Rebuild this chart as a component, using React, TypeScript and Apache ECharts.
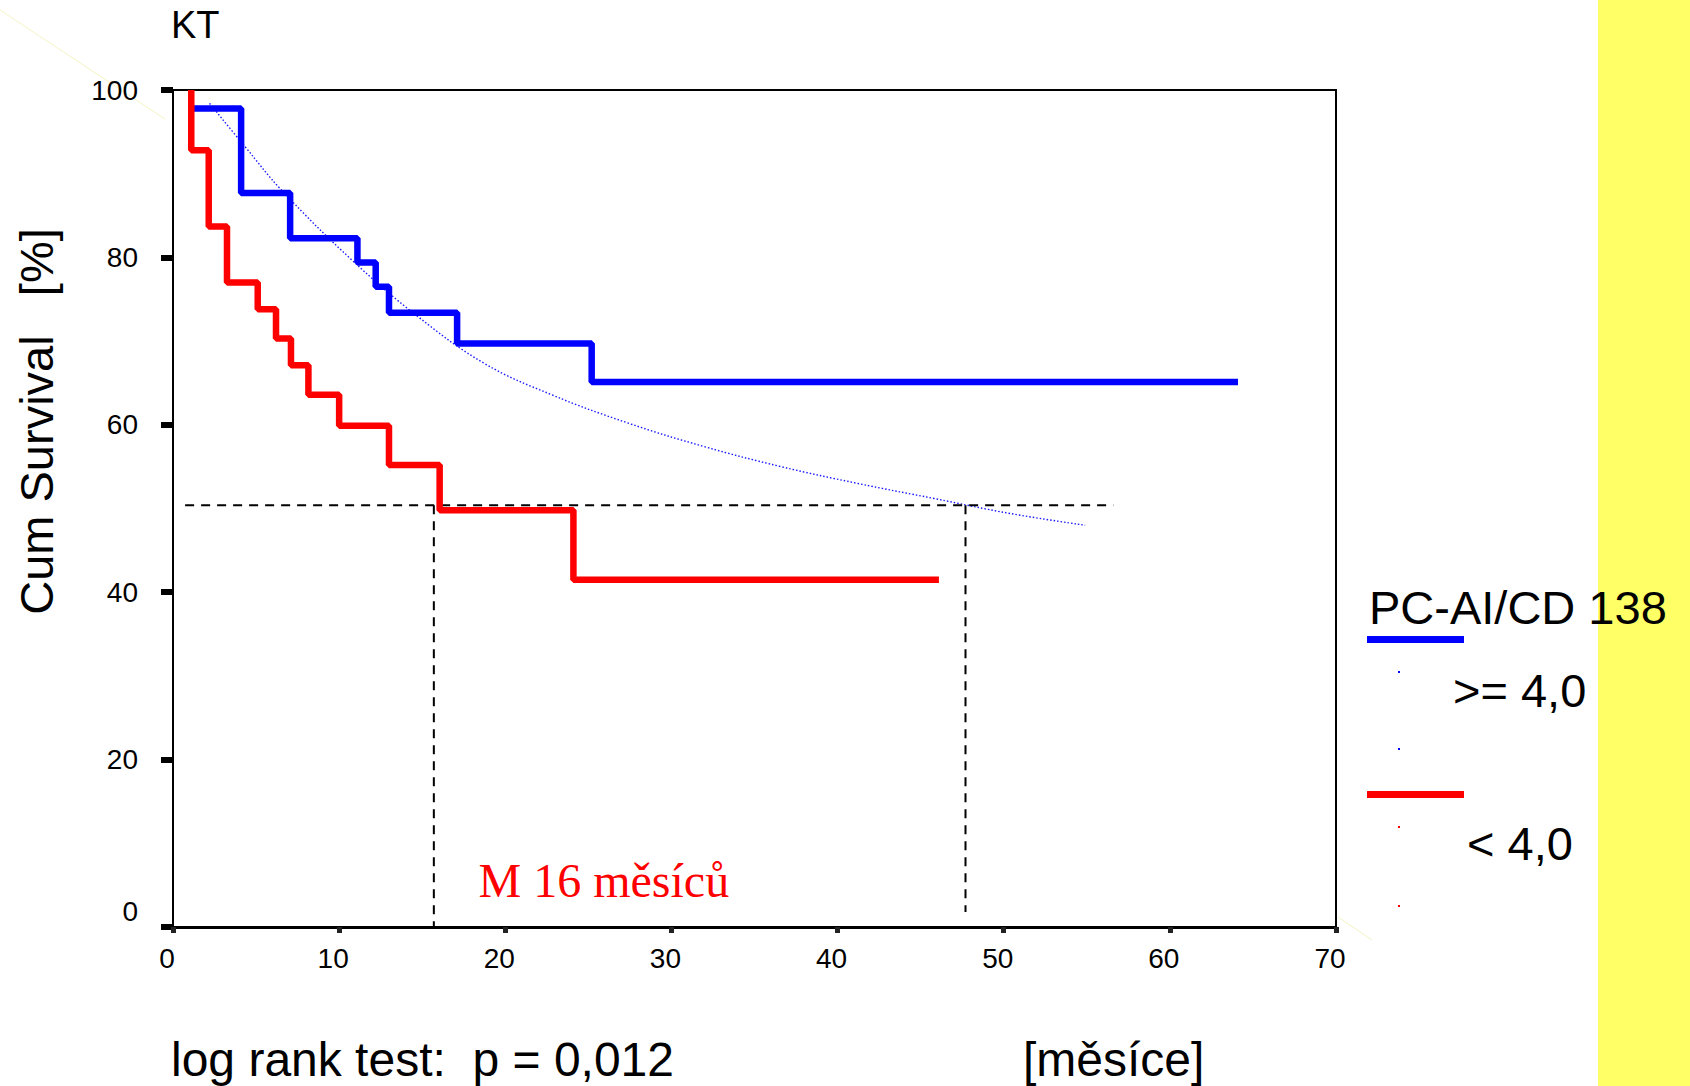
import React, { useEffect, useRef } from 'react';
import * as echarts from 'echarts';

// Kaplan-Meier step points (time in months, cumulative survival in %)
const blueTimes = [1.1, 4.1, 7.05, 11.1, 12.2, 13.0, 17.1, 25.2, 64.1];
const blueSurv = [97.8, 87.7, 82.3, 79.4, 76.5, 73.4, 69.7, 65.1, 65.1];
const redTimes = [1.1, 1.1, 2.15, 3.25, 5.1, 6.2, 7.1, 8.15, 10.0, 13.0, 16.05, 24.1, 46.1];
const redSurv = [100, 92.8, 83.7, 77.0, 73.8, 70.3, 67.1, 63.6, 59.9, 55.2, 49.8, 41.5, 41.5];
// thin dotted fitted curve
const fitTimes = [2.2, 4.35, 6.55, 10.76, 14.76, 18.77, 22.78, 27.4, 31.97, 36.6, 41.2, 45.8, 50.4, 54.9];
const fitSurv = [98.4, 93.2, 88.0, 79.7, 72.9, 67.3, 63.6, 60.2, 57.4, 55.0, 53.0, 51.2, 49.4, 48.0];
// median guide lines
const medianY = 50.4;
const medianLineX = [0.73, 56.6];
const medianRedX = 15.7;
const medianBlueX = 47.7;
const medianBlueBottom = 1.8;

const xMin = 0, xMax = 70, xStep = 10;
const yMin = 0, yMax = 100, yStep = 20;

const SANS = '"Liberation Sans", Arial, sans-serif';
const SERIF = '"Liberation Serif", "Times New Roman", serif';

const zip = (a: number[], b: number[]) => a.map((v, i) => [v, b[i]]);

export default function App() {
  const ref = useRef<HTMLDivElement>(null);
  useEffect(() => {
    if (!ref.current) return;
    const chart = echarts.init(ref.current, null, { renderer: 'svg' });
    const dashStyle = { color: '#000', width: 2, type: [9, 7] as any };
    const option: any = {
      animation: false,
      backgroundColor: '#fff',
      grid: {
        left: 173, top: 90, width: 1163, height: 837,
        show: true, borderColor: '#000', borderWidth: 2, backgroundColor: 'transparent',
      },
      xAxis: {
        type: 'value', min: xMin, max: xMax, interval: xStep,
        axisLine: { show: true, onZero: false, lineStyle: { color: '#000', width: 3 } },
        axisTick: { show: true, length: 6, lineStyle: { color: '#222', width: 5 } },
        axisLabel: { color: '#000', fontSize: 28, fontFamily: SANS, margin: 17, padding: [0, 12, 0, 0] },
        splitLine: { show: false },
      },
      yAxis: {
        type: 'value', min: yMin, max: yMax, interval: yStep,
        axisLine: { show: true, onZero: false, lineStyle: { color: '#000', width: 2 } },
        axisTick: { show: true, length: 12, lineStyle: { color: '#000', width: 6 } },
        axisLabel: {
          color: '#000', fontSize: 28, fontFamily: SANS, margin: 35,
          formatter: (v: number) => (v === 0 ? '{z|0}' : '{n|' + v + '}'),
          rich: {
            z: { fontSize: 28, fontFamily: SANS, color: '#000', padding: [0, 0, 32, 0] },
            n: { fontSize: 28, fontFamily: SANS, color: '#000' },
          },
        },
        splitLine: { show: false },
      },
      series: [
        {
          type: 'line', data: zip(fitTimes, fitSurv), smooth: 0.4, symbol: 'none',
          lineStyle: { color: '#1a1aff', width: 1.4, type: [1.5, 2] }, z: 2,
        },
        {
          type: 'line', data: medianLineX.map((x) => [x, medianY]), symbol: 'none',
          lineStyle: dashStyle, z: 2,
        },
        {
          type: 'line', data: [[medianRedX, medianY], [medianRedX, yMin]], symbol: 'none',
          lineStyle: dashStyle, z: 2,
        },
        {
          type: 'line', data: [[medianBlueX, medianY], [medianBlueX, medianBlueBottom]], symbol: 'none',
          lineStyle: dashStyle, z: 2,
        },
        {
          type: 'line', step: 'end', data: zip(blueTimes, blueSurv), symbol: 'none',
          lineStyle: { color: '#0000ff', width: 6.5 }, z: 3,
        },
        {
          type: 'line', step: 'end', data: zip(redTimes, redSurv), symbol: 'none',
          lineStyle: { color: '#ff0000', width: 6.5 }, z: 4,
        },
      ],
      graphic: [
        { type: 'rect', shape: { x: 1598, y: 0, width: 92, height: 1086 }, style: { fill: '#ffff66' }, z: 0 },
        { type: 'line', shape: { x1: 0, y1: 10, x2: 165, y2: 119 }, style: { stroke: '#f4f4c4', lineWidth: 1 }, z: 0 },
        { type: 'line', shape: { x1: 1338, y1: 917, x2: 1372, y2: 940 }, style: { stroke: '#f4f4c4', lineWidth: 1 }, z: 0 },
        {
          type: 'text', x: 171, y: 25,
          style: { text: 'KT', fontSize: 38, fontFamily: SANS, fill: '#000', align: 'left', verticalAlign: 'middle' },
        },
        {
          type: 'text', x: 36, y: 421.5, rotation: Math.PI / 2,
          style: { text: 'Cum Survival   [%]', fontSize: 47, fontFamily: SANS, fill: '#000', align: 'center', verticalAlign: 'middle' },
        },
        {
          type: 'text', x: 478.5, y: 880.5,
          style: { text: 'M 16 měsíců', fontSize: 48, fontFamily: SERIF, fill: '#ff0000', align: 'left', verticalAlign: 'middle' },
        },
        {
          type: 'text', x: 171, y: 1059,
          style: { text: 'log rank test:  p = 0,012', fontSize: 48, fontFamily: SANS, fill: '#000', align: 'left', verticalAlign: 'middle' },
        },
        {
          type: 'text', x: 1023, y: 1059,
          style: { text: '[měsíce]', fontSize: 48, fontFamily: SANS, fill: '#000', align: 'left', verticalAlign: 'middle' },
        },
        // legend
        {
          type: 'text', x: 1369, y: 607.5,
          style: { text: 'PC-AI/CD 138', fontSize: 47, fontFamily: SANS, fill: '#000', align: 'left', verticalAlign: 'middle' },
        },
        { type: 'line', shape: { x1: 1367, y1: 639.5, x2: 1464, y2: 639.5 }, style: { stroke: '#0000ff', lineWidth: 7 } },
        { type: 'rect', shape: { x: 1398, y: 671, width: 2, height: 2 }, style: { fill: '#0000ff' } },
        { type: 'rect', shape: { x: 1398, y: 748, width: 2, height: 2 }, style: { fill: '#0000ff' } },
        {
          type: 'text', x: 1453, y: 690.5,
          style: { text: '>= 4,0', fontSize: 47, fontFamily: SANS, fill: '#000', align: 'left', verticalAlign: 'middle' },
        },
        { type: 'line', shape: { x1: 1367, y1: 794.5, x2: 1464, y2: 794.5 }, style: { stroke: '#ff0000', lineWidth: 7 } },
        { type: 'rect', shape: { x: 1398, y: 826, width: 2, height: 2 }, style: { fill: '#ff0000' } },
        { type: 'rect', shape: { x: 1398, y: 905, width: 2, height: 2 }, style: { fill: '#ff0000' } },
        {
          type: 'text', x: 1467, y: 843.5,
          style: { text: '< 4,0', fontSize: 47, fontFamily: SANS, fill: '#000', align: 'left', verticalAlign: 'middle' },
        },
      ],
    };
    chart.setOption(option);
    return () => chart.dispose();
  }, []);
  return (
    <div
      ref={ref}
      style={{ position: 'absolute', left: 0, top: 0, width: 1690, height: 1086, background: '#fff' }}
    />
  );
}
